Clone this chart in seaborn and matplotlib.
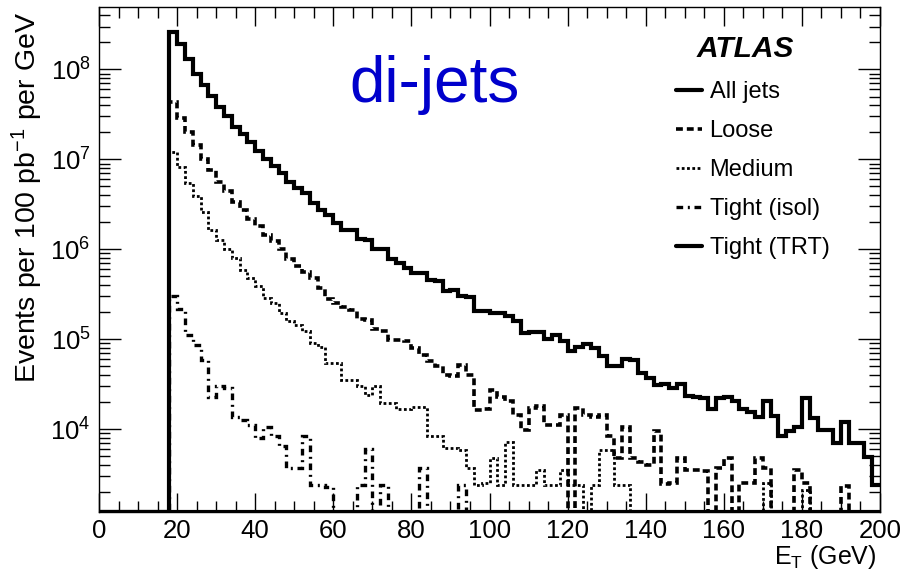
import numpy as np
import pandas as pd
import matplotlib
matplotlib.use("Agg")
import matplotlib.pyplot as plt
from matplotlib.ticker import LogLocator, MultipleLocator, NullFormatter
import seaborn as sns

# 2 GeV bins, 0-200 GeV; nothing is filled below 18 GeV
bin_width = 2.0
et_first = 18.0
et_max = 200.0

# bin contents from 18 GeV upwards (91 bins), events per 100 pb-1 per GeV
all_jets = [
    2.6e8, 1.9e8, 1.3e8, 8.9e7, 6.8e7, 5.1e7, 3.8e7, 3.0e7, 2.3e7, 1.9e7,          # 18-36
    1.55e7, 1.23e7, 1.02e7, 8.5e6, 7.1e6, 5.6e6, 4.8e6, 4.2e6, 3.3e6, 2.75e6,      # 38-56
    2.4e6, 1.95e6, 1.66e6, 1.62e6, 1.29e6, 1.26e6, 1.02e6, 1.0e6, 7.9e5, 7.1e5,    # 58-76
    6.2e5, 5.5e5, 5.4e5, 4.6e5, 4.5e5, 3.4e5, 3.5e5, 3.0e5, 2.95e5, 2.05e5,        # 78-96
    2.05e5, 1.95e5, 1.95e5, 1.8e5, 1.6e5, 1.17e5, 1.2e5, 1.2e5, 1.0e5, 1.12e5,     # 98-116
    9.5e4, 7.4e4, 8.3e4, 8.9e4, 7.9e4, 6.5e4, 5.0e4, 5.0e4, 6.0e4, 5.9e4,          # 118-136
    4.2e4, 3.7e4, 3.1e4, 3.2e4, 2.9e4, 3.2e4, 2.35e4, 2.3e4, 2.2e4, 1.66e4,        # 138-156
    2.2e4, 2.3e4, 2.05e4, 1.66e4, 1.55e4, 1.38e4, 2.05e4, 1.41e4, 8.5e3, 9.5e3,    # 158-176
    1.07e4, 2.2e4, 1.32e4, 9.8e3, 9.8e3, 7.1e3, 1.2e4, 7.1e3, 7.1e3, 4.9e3,        # 178-196
    2.4e3,                                                                          # 198
]
loose = [
    4.3e7, 2.9e7, 2.0e7, 1.45e7, 1.02e7, 7.6e6, 5.6e6, 4.4e6, 3.4e6, 2.75e6,
    2.2e6, 1.8e6, 1.45e6, 1.23e6, 1.0e6, 7.9e5, 6.6e5, 5.6e5, 4.8e5, 3.7e5,
    2.8e5, 2.5e5, 2.3e5, 2.1e5, 1.7e5, 1.65e5, 1.3e5, 1.22e5, 9.8e4, 9.7e4,
    9.5e4, 8.0e4, 6.7e4, 5.7e4, 5.1e4, 4.0e4, 3.9e4, 5.2e4, 4.0e4, 1.65e4,
    1.68e4, 2.7e4, 2.3e4, 2.05e4, 1.45e4, 9.8e3, 1.7e4, 1.8e4, 1.1e4, 1.1e4,
    1.45e4, 0, 1.7e4, 1.45e4, 1.38e4, 1.42e4, 8.3e3, 4.8e3, 1.05e4, 4.8e3,
    4.3e3, 4.0e3, 9.5e3, 2.45e3, 2.5e3, 4.8e3, 3.55e3, 3.55e3, 3.4e3, 0,
    3.7e3, 4.8e3, 0, 2.5e3, 2.5e3, 4.8e3, 3.7e3, 0, 0, 0,
    3.55e3, 2.5e3, 0, 0, 0, 0, 2.35e3, 0, 0, 0,
    0,
]
medium = [
    1.22e7, 8.3e6, 5.4e6, 3.9e6, 2.6e6, 1.65e6, 1.28e6, 1.0e6, 8.0e5, 5.9e5,
    4.8e5, 3.9e5, 2.9e5, 2.5e5, 1.95e5, 1.58e5, 1.45e5, 1.22e5, 9.1e4, 8.3e4,
    5.4e4, 5.4e4, 3.5e4, 3.5e4, 3.0e4, 2.4e4, 3.0e4, 1.95e4, 1.95e4, 1.66e4,
    1.66e4, 1.78e4, 1.78e4, 8.3e3, 8.3e3, 6.2e3, 6.2e3, 5.8e3, 3.7e3, 2.4e3,
    2.5e3, 4.8e3, 2.4e3, 7.2e3, 2.4e3, 2.4e3, 2.4e3, 3.55e3, 2.4e3, 2.4e3,
    3.55e3, 2.4e3, 2.4e3, 0, 2.4e3, 5.8e3, 5.8e3, 2.4e3, 2.4e3, 0,
    0, 0, 0, 0, 0, 0, 0, 0, 0, 0,
    0, 0, 0, 0, 0, 0, 2.5e3, 0, 0, 0,
    0, 2.1e3, 0, 0, 0, 0, 0, 0, 0, 0,
    0,
]
tight_isol = [
    3.0e5, 2.15e5, 1.12e5, 8.7e4, 5.9e4, 2.3e4, 3.0e4, 2.9e4, 1.35e4, 1.26e4,
    1.12e4, 7.9e3, 1.07e4, 8.3e3, 6.5e3, 3.7e3, 3.7e3, 8.3e3, 2.4e3, 2.4e3,
    2.3e3, 0, 0, 0, 2.4e3, 6.0e3, 0, 2.4e3, 0, 0,
    0, 0, 3.7e3, 0, 0, 0, 0, 2.4e3, 0, 0,
    0, 0, 0, 0, 0, 0, 0, 0, 0, 0,
    0, 0, 0, 0, 0, 0, 0, 0, 0, 0,
    0, 0, 0, 0, 0, 0, 0, 0, 0, 0,
    0, 0, 0, 0, 0, 0, 0, 0, 0, 0,
    0, 0, 0, 0, 0, 0, 0, 0, 0, 0,
    0,
]
# nothing of this selection reaches the plotted range
tight_trt = [
    0, 0, 0, 0, 0, 0, 0, 0, 0, 0,
    0, 0, 0, 0, 0, 0, 0, 0, 0, 0,
    0, 0, 0, 0, 0, 0, 0, 0, 0, 0,
    0, 0, 0, 0, 0, 0, 0, 0, 0, 0,
    0, 0, 0, 0, 0, 0, 0, 0, 0, 0,
    0, 0, 0, 0, 0, 0, 0, 0, 0, 0,
    0, 0, 0, 0, 0, 0, 0, 0, 0, 0,
    0, 0, 0, 0, 0, 0, 0, 0, 0, 0,
    0, 0, 0, 0, 0, 0, 0, 0, 0, 0,
    0,
]

series_names = ["All jets", "Loose", "Medium", "Tight (isol)", "Tight (TRT)"]
series_values = [all_jets, loose, medium, tight_isol, tight_trt]

# (linewidth pt, linestyle) per selection, ROOT-like line styles
line_styles = {
    "All jets": (3.0, "-"),
    "Loose": (2.6, (0, (1.9, 1.1))),
    "Medium": (2.0, (0, (1.0, 0.9))),
    "Tight (isol)": (2.4, (0, (2.0, 1.4, 0.6, 1.4))),
    "Tight (TRT)": (3.0, "-"),
}

y_min, y_max = 1.2e3, 4.95e8

edges = np.arange(0, et_max + bin_width / 2, bin_width)
n_empty = int(et_first / bin_width)
rows = []
for name, vals in zip(series_names, series_values):
    contents = np.concatenate([np.zeros(n_empty), np.asarray(vals, dtype=float)])
    # empty bins sit on the lower frame edge, as ROOT draws them on a log axis
    contents = np.where(contents > 0, contents, y_min)
    contents = np.append(contents, contents[-1])
    for e, c in zip(edges, contents):
        rows.append({"et": e, "events": c, "selection": name})
df = pd.DataFrame(rows)

sns.set_style("ticks", {
    "axes.edgecolor": "black", "axes.labelcolor": "black", "text.color": "black",
    "xtick.color": "black", "ytick.color": "black",
    "xtick.direction": "in", "ytick.direction": "in",
})
plt.rcParams["font.family"] = ["Liberation Sans", "DejaVu Sans"]
plt.rcParams["mathtext.fontset"] = "custom"
plt.rcParams["mathtext.rm"] = "Liberation Sans"
plt.rcParams["mathtext.it"] = "Liberation Sans:italic"
plt.rcParams["mathtext.bf"] = "Liberation Sans:bold"

fig = plt.figure(figsize=(9.02, 5.73), dpi=100)
ax = fig.add_axes([99 / 902, 1 - 512 / 573, 781 / 902, 505 / 573])

for name in series_names:
    lw, ls = line_styles[name]
    sns.lineplot(data=df[df["selection"] == name], x="et", y="events",
                 estimator=None, sort=False, drawstyle="steps-post",
                 color="black", linewidth=lw, linestyle=ls, label=name,
                 solid_joinstyle="miter", dash_joinstyle="miter", ax=ax)

ax.set_yscale("log")
ax.set_xlim(0, et_max)
ax.set_ylim(y_min, y_max)

ax.xaxis.set_major_locator(MultipleLocator(20))
ax.xaxis.set_minor_locator(MultipleLocator(5))
ax.yaxis.set_major_locator(LogLocator(base=10))
ax.yaxis.set_minor_locator(LogLocator(base=10, subs=np.arange(2, 10)))
ax.yaxis.set_minor_formatter(NullFormatter())
ax.tick_params(which="both", direction="in", top=True, right=True, width=1.0, labelsize=18.5)
ax.tick_params(axis="x", which="major", length=14, pad=5)
ax.tick_params(axis="x", which="minor", length=8)
ax.tick_params(axis="y", which="major", length=16, pad=6)
ax.tick_params(axis="y", which="minor", length=8)
for sp in ax.spines.values():
    sp.set_linewidth(1.0)

ax.set_xlabel(r"E$_{\mathrm{T}}$ (GeV)", fontsize=18, loc="right")
ax.xaxis.set_label_coords(0.996, -0.062)
ax.set_ylabel(r"Events per 100 pb$^{-1}$ per GeV", fontsize=20.5, loc="top")
ax.yaxis.set_label_coords(-0.069, 0.99)

ax.text(0.321, 0.812, "di-jets", transform=ax.transAxes, fontsize=46,
        color="#0000cc", ha="left", va="baseline")
ax.text(0.827, 0.901, "ATLAS", transform=ax.transAxes, fontsize=21.5,
        fontweight="bold", fontstyle="italic", ha="center", va="baseline")

ax.legend(loc="upper left", bbox_to_anchor=(0.7388, 0.853), frameon=False,
          fontsize=17, handlelength=1.12, handletextpad=0.3, labelspacing=0.72,
          borderpad=0, borderaxespad=0)

fig.savefig("out.png", dpi=100)
